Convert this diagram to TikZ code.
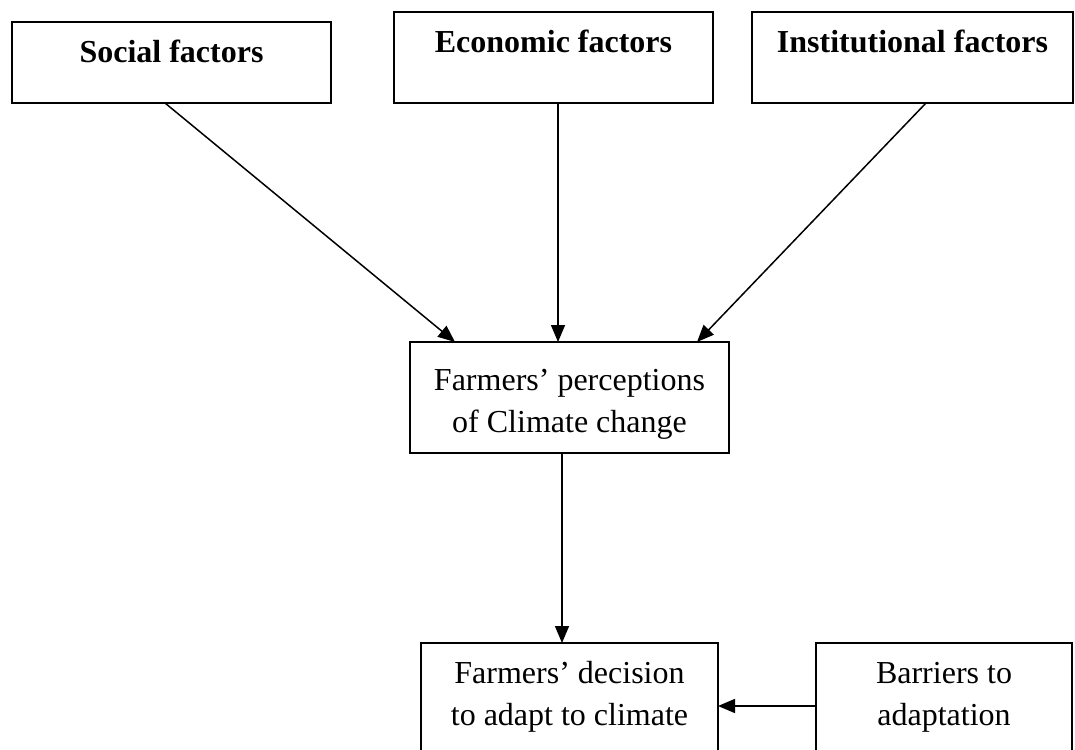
\documentclass[tikz,border=0pt]{standalone}
\usepackage{fontspec}
\setmainfont{Liberation Serif}
\usetikzlibrary{arrows.meta}
\begin{document}
\begin{tikzpicture}[x=1pt,y=-1pt,
  box/.style={draw=black,line width=1.8pt,rectangle,inner sep=0pt,outer sep=0pt,anchor=north west},
  lbl/.style={anchor=base,inner sep=0pt,font=\fontsize{32}{38}\selectfont},
  blbl/.style={lbl,font=\fontsize{32}{38}\selectfont\bfseries},
  conn/.style={line width=1.5pt,-{Triangle[length=17pt,width=14pt]}}]
\useasboundingbox (0,0) rectangle (1075,749);
\clip (0,0) rectangle (1075,749);
% boxes
\node[box,minimum width=319pt,minimum height=81pt] (soc) at (12,22) {};
\node[box,minimum width=319pt,minimum height=91pt] (eco) at (394,12) {};
\node[box,minimum width=321pt,minimum height=91pt] (ins) at (752,12) {};
\node[box,minimum width=319pt,minimum height=111pt] (perc) at (410,342) {};
\node[box,minimum width=297pt,minimum height=150pt] (dec) at (421,643) {};
\node[box,minimum width=256pt,minimum height=150pt] (bar) at (816,643) {};
% texts
\node[blbl] (socT) at (171.5,63) {Social factors};
\node[blbl] (ecoT) at (553.5,53) {Economic factors};
\node[blbl] (insT) at (912.5,53) {Institutional factors};
\node[lbl] (percT1) at (569.5,390) {Farmers’ perceptions};
\node[lbl] (percT2) at (569.5,432) {of Climate change};
\node[lbl] (decT1) at (569.5,683) {Farmers’ decision};
\node[lbl] (decT2) at (569.5,725) {to adapt to climate};
\node[lbl] (barT1) at (944,683) {Barriers to};
\node[lbl] (barT2) at (944,725) {adaptation};
% connectors
\draw[conn] ([xshift=-6.5pt]soc.south) -- ([xshift=-114.5pt]perc.north);
\draw[conn] ([xshift=4.5pt]eco.south) -- ([xshift=-11.5pt]perc.north);
\draw[conn] ([xshift=13.5pt]ins.south) -- ([xshift=127.5pt]perc.north);
\draw[conn] ([xshift=-7.5pt]perc.south) -- ([xshift=-7.5pt]dec.north);
\draw[conn] (bar.west |- 0,706) -- (dec.east |- 0,706);
\end{tikzpicture}
\end{document}
